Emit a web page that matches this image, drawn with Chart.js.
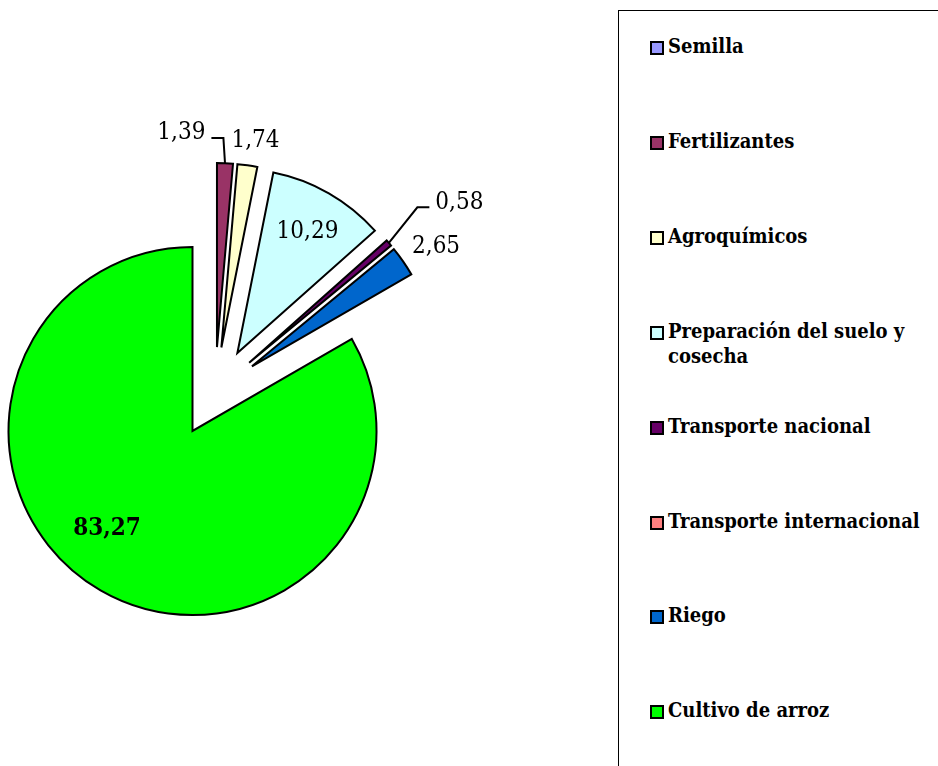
<!DOCTYPE html>
<html>
<head>
<meta charset="utf-8">
<title>Costos</title>
<script src="https://cdn.jsdelivr.net/npm/chart.js@4"></script>
<style>
    body { margin: 0; background: #fff; width: 938px; height: 766px; overflow: hidden; position: relative; font-family: "DejaVu Serif Condensed", "DejaVu Serif", serif; }
    #pie-wrap { position: absolute; left: 0; top: 0; width: 610px; height: 766px; }
    #legend { position: absolute; left: 618px; top: 10px; width: 340px; height: 790px; border: 1.5px solid #000; box-sizing: border-box; }
    .legend-item { position: absolute; left: 31px; display: flex; align-items: flex-start; font-weight: bold; font-size: 20px; line-height: 25px; color: #000; }
    .legend-box { width: 10px; height: 10px; border: 2px solid #000; margin-top: 7px; margin-right: 4px; flex: none; }
    .legend-text { width: 262px; }
</style>
</head>
<body>
<div id="pie-wrap"><canvas id="cost-pie-chart"></canvas></div>
<div id="legend"></div>

<script>
// Participacion de cada etapa en el total (%)
const categories = ['Semilla', 'Fertilizantes', 'Agroquímicos', 'Preparación del suelo y cosecha',
    'Transporte nacional', 'Transporte internacional', 'Riego', 'Cultivo de arroz'];
const costShares = [0, 1.39, 1.74, 10.29, 0.58, 0, 2.65, 83.27];
const sliceColors = ['#9999FF', '#993366', '#FFFFCC', '#CCFFFF', '#660066', '#FF8080', '#0066CC', '#00FF00'];

// label placement: distance from slice tip (px), angle shift (deg), leader line
const labelDist = [0, 218, 210, 141, 265, 0, 220, 129];
const labelShift = [0, -11.9, 1.2, 0, 3.1, 0, 1.6, 11.5];
const labelLeader = [false, true, false, false, true, false, false, false];
const labelBold = [false, false, false, false, false, false, false, true];

const EXPLODE = 45; // every slice pulled out from the centre
const LABEL_FONT = '"DejaVu Serif Condensed", "DejaVu Serif", serif';

const explodePlugin = {
    id: 'explode',
    beforeDatasetDraw(chart, args) {
        const ctx = chart.ctx;
        args.meta.data.forEach(arc => {
            const mid = (arc.startAngle + arc.endAngle) / 2;
            ctx.save();
            ctx.translate(Math.cos(mid) * EXPLODE, Math.sin(mid) * EXPLODE);
            arc.draw(ctx);
            ctx.restore();
        });
        return false;
    }
};

const valueLabelPlugin = {
    id: 'valueLabels',
    afterDatasetsDraw(chart) {
        const ctx = chart.ctx;
        chart.getDatasetMeta(0).data.forEach((arc, i) => {
            if (!costShares[i]) return;
            const mid = (arc.startAngle + arc.endAngle) / 2;
            const cx = arc.x + Math.cos(mid) * EXPLODE;
            const cy = arc.y + Math.sin(mid) * EXPLODE;
            const a = mid + labelShift[i] * Math.PI / 180;
            const lx = cx + Math.cos(a) * labelDist[i];
            const ly = cy + Math.sin(a) * labelDist[i];
            const text = costShares[i].toFixed(2).replace('.', ',');

            ctx.save();
            ctx.font = (labelBold[i] ? 'bold 24px ' : '24px ') + LABEL_FONT;
            ctx.fillStyle = '#000';
            ctx.textAlign = 'center';
            ctx.textBaseline = 'middle';
            if (labelLeader[i]) {
                const w = ctx.measureText(text).width;
                const ox = cx + Math.cos(mid) * arc.outerRadius;
                const oy = cy + Math.sin(mid) * arc.outerRadius;
                const dir = lx < ox ? 1 : -1;
                const edge = lx + dir * (w / 2 + 6);
                const elbow = edge + dir * 12;
                ctx.strokeStyle = '#000';
                ctx.lineWidth = 2;
                ctx.beginPath();
                ctx.moveTo(edge, ly + 6);
                ctx.lineTo(elbow, ly + 6);
                ctx.lineTo(ox, oy);
                ctx.stroke();
            }
            ctx.fillText(text, lx, ly + 1);
            ctx.restore();
        });
    }
};

function buildLegend() {
    const legend = document.getElementById('legend');
    categories.forEach((name, i) => {
        const item = document.createElement('div');
        item.className = 'legend-item';
        item.style.top = (47 + i * 94.9 - 11.5 - 12.5) + 'px';
        item.innerHTML = '<span class="legend-box" style="background:' + sliceColors[i] + '"></span>' +
            '<span class="legend-text">' + name + '</span>';
        legend.appendChild(item);
    });
}

function renderCostPie() {
    const canvas = document.getElementById('cost-pie-chart');
    new Chart(canvas, {
        type: 'pie',
        data: {
            labels: categories,
            datasets: [{
                data: costShares,
                backgroundColor: sliceColors,
                borderColor: '#000',
                borderWidth: 2,
                borderJoinStyle: 'miter',
                hoverOffset: 0
            }]
        },
        options: {
            responsive: true,
            maintainAspectRatio: false,
            animation: false,
            radius: 184,
            layout: { padding: { top: 18, right: 180 } },
            plugins: {
                legend: { display: false },
                tooltip: { enabled: false }
            }
        },
        plugins: [explodePlugin, valueLabelPlugin]
    });
}

buildLegend();
renderCostPie();
</script>
</body>
</html>
